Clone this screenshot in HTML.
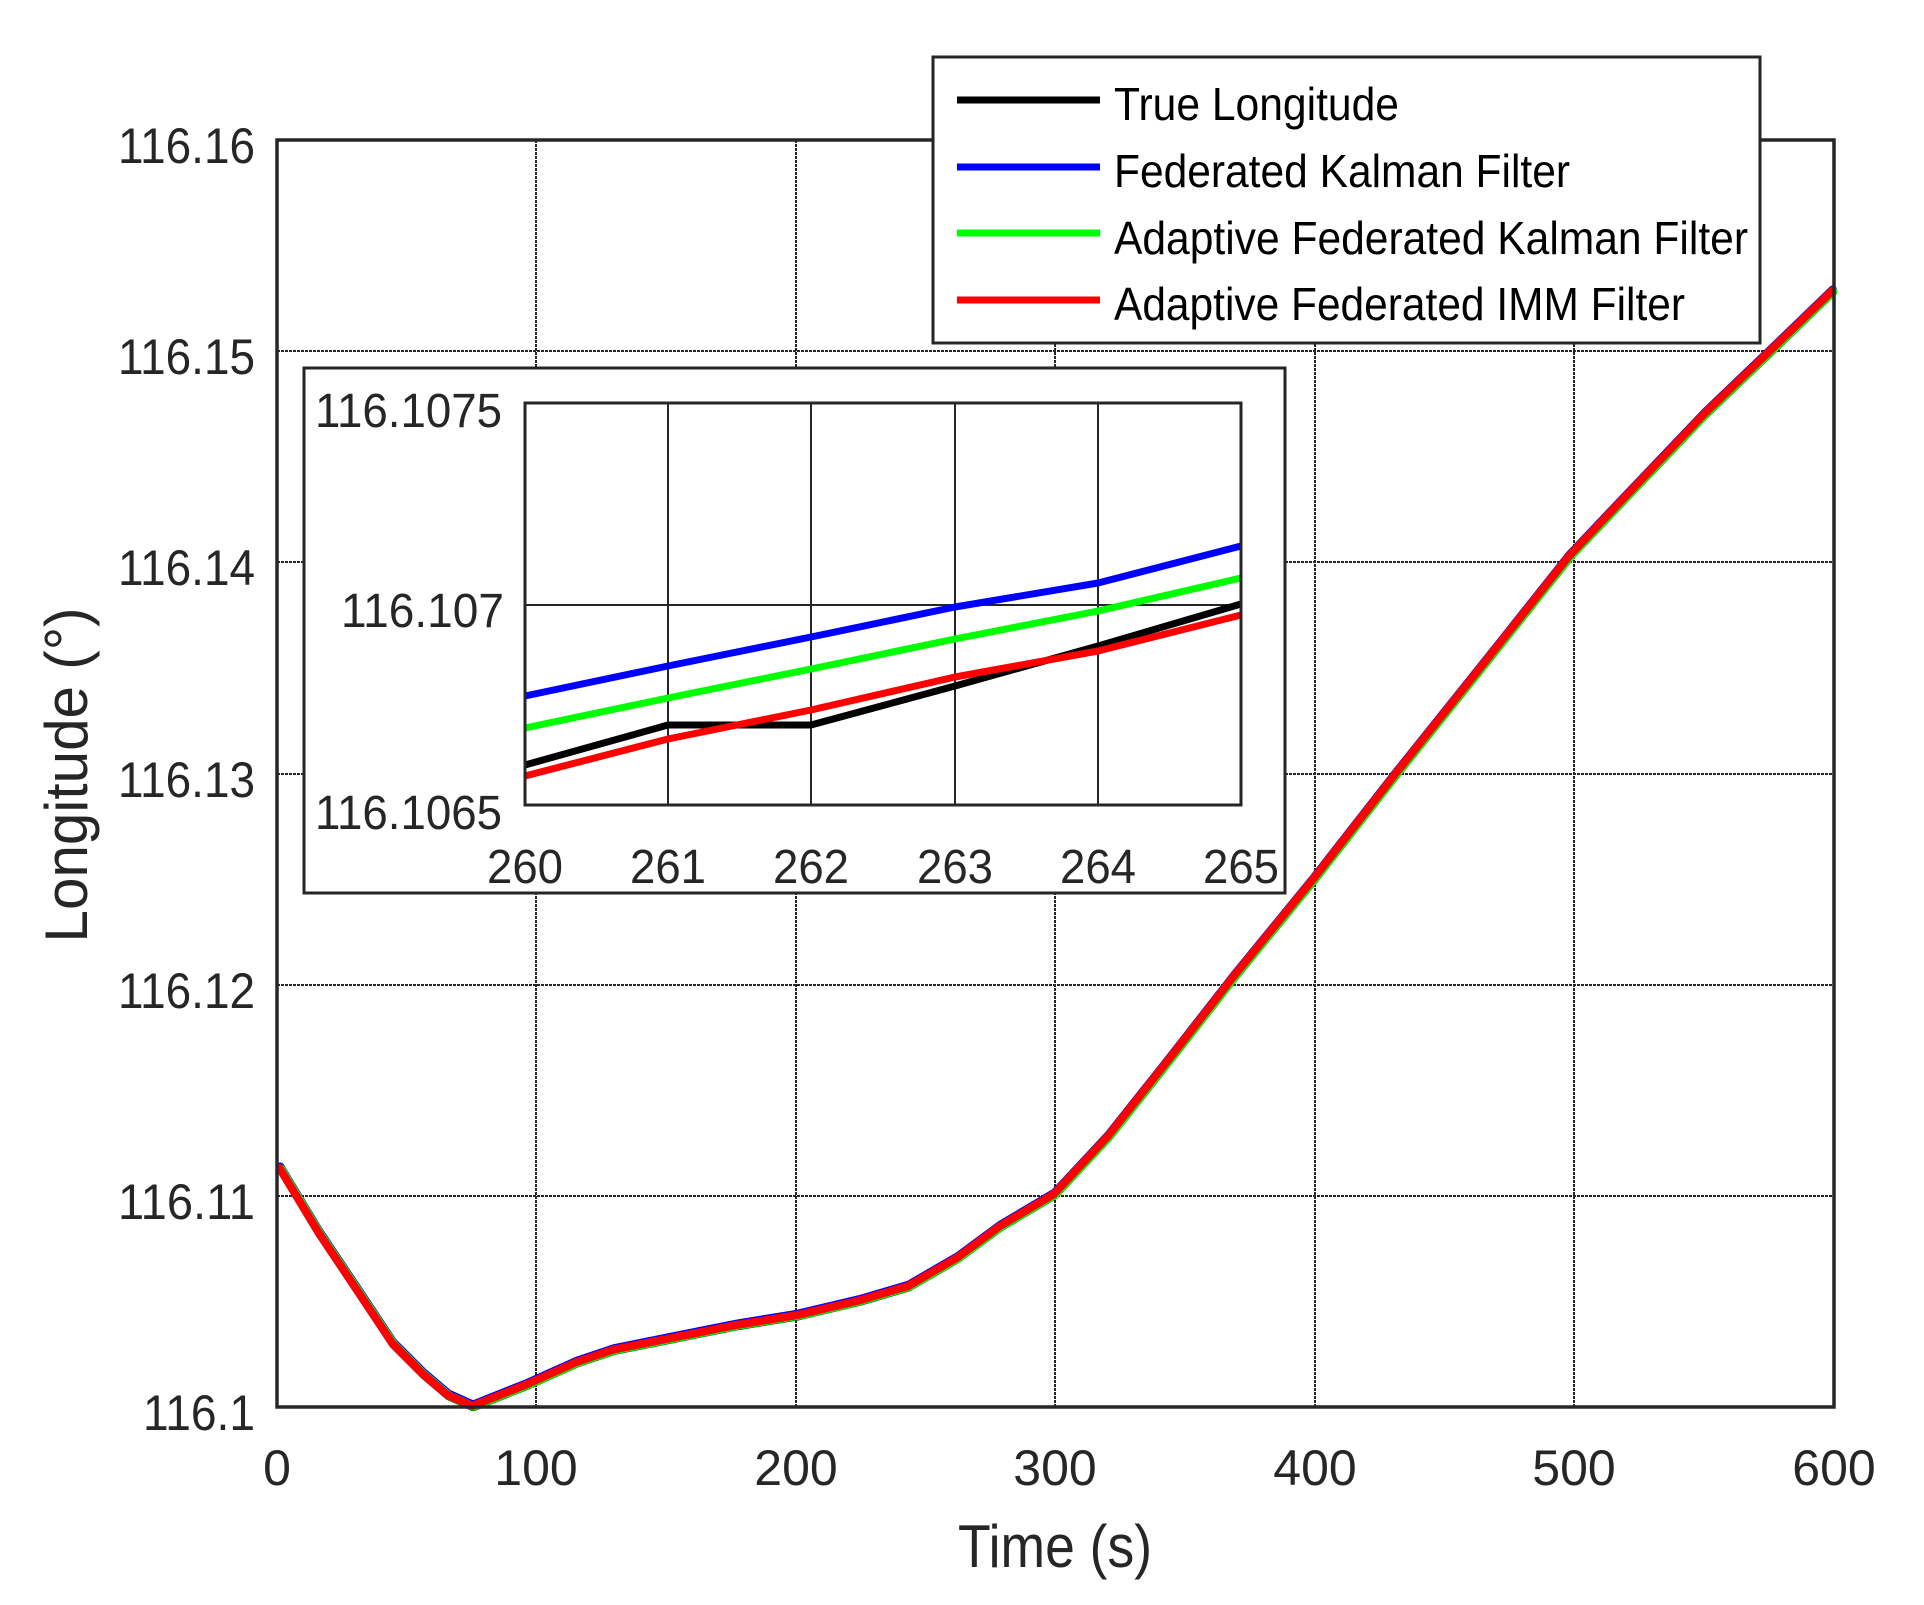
<!DOCTYPE html>
<html><head><meta charset="utf-8"><style>html,body{margin:0;padding:0;background:#fff}svg{display:block}</style></head>
<body>
<svg width="1924" height="1605" viewBox="0 0 1924 1605" xmlns="http://www.w3.org/2000/svg" font-family="Liberation Sans, sans-serif" fill="#262626">
<rect width="1924" height="1605" fill="#fff"/>
<g stroke="#262626" stroke-width="2" stroke-dasharray="3,1">
<line x1="536" y1="140" x2="536" y2="1407"/><line x1="796" y1="140" x2="796" y2="1407"/><line x1="1055" y1="140" x2="1055" y2="1407"/><line x1="1315" y1="140" x2="1315" y2="1407"/><line x1="1574" y1="140" x2="1574" y2="1407"/>
<line x1="277" y1="351" x2="1834" y2="351"/><line x1="277" y1="562" x2="1834" y2="562"/><line x1="277" y1="774" x2="1834" y2="774"/><line x1="277" y1="985" x2="1834" y2="985"/><line x1="277" y1="1196" x2="1834" y2="1196"/>
</g>
<defs>
<path id="c" d="M279.5,1167.9 L318.8,1233 L355.6,1288 L392.5,1343.5 L423,1374 L447.7,1395 L472.3,1406 L490.7,1398.7 L527.5,1384 L576.7,1362 L613.5,1349.6 L674.9,1337.3 L736.3,1325 L797.7,1315 L859,1300.5 L908.2,1286 L957.3,1257.5 L1000,1226 L1054,1194 L1108,1136 L1173,1054 L1233,977 L1314,878 L1396,773 L1488,658 L1569,556 L1623,499 L1705,413 L1775,346 L1832,291"/>
</defs>
<g fill="none" stroke-linejoin="round" stroke-linecap="round" stroke-width="8.5">
<use href="#c" stroke="#000" transform="translate(1,1)"/>
<use href="#c" stroke="#0000ff" transform="translate(0.7,-1.2)"/>
<use href="#c" stroke="#00ff00" transform="translate(1.2,0.6)"/>
<use href="#c" stroke="#ff0000" stroke-width="8"/>
</g>
<rect x="277" y="140" width="1557" height="1267" fill="none" stroke="#262626" stroke-width="3.5"/>
<g font-size="50" text-anchor="end">
<text x="255" y="163" textLength="137" lengthAdjust="spacingAndGlyphs">116.16</text>
<text x="255" y="374" textLength="137" lengthAdjust="spacingAndGlyphs">116.15</text>
<text x="255" y="585" textLength="137" lengthAdjust="spacingAndGlyphs">116.14</text>
<text x="255" y="797" textLength="137" lengthAdjust="spacingAndGlyphs">116.13</text>
<text x="255" y="1008" textLength="137" lengthAdjust="spacingAndGlyphs">116.12</text>
<text x="255" y="1219" textLength="137" lengthAdjust="spacingAndGlyphs">116.11</text>
<text x="255" y="1430" textLength="112" lengthAdjust="spacingAndGlyphs">116.1</text>
</g>
<g font-size="50" text-anchor="middle">
<text x="277" y="1485">0</text><text x="536" y="1485">100</text><text x="796" y="1485">200</text><text x="1055" y="1485">300</text><text x="1315" y="1485">400</text><text x="1574" y="1485">500</text><text x="1834" y="1485">600</text>
</g>
<text x="1055" y="1567" font-size="60" text-anchor="middle" textLength="194" lengthAdjust="spacingAndGlyphs">Time (s)</text>
<text transform="translate(87,775) rotate(-90)" font-size="60" text-anchor="middle" textLength="335" lengthAdjust="spacingAndGlyphs">Longitude (°)</text>
<rect x="933" y="57" width="827" height="286" fill="#fff" stroke="#262626" stroke-width="3"/>
<g stroke-width="7">
<line x1="957" y1="100" x2="1100" y2="100" stroke="#000"/>
<line x1="957" y1="167" x2="1100" y2="167" stroke="#0000ff"/>
<line x1="957" y1="233" x2="1100" y2="233" stroke="#00ff00"/>
<line x1="957" y1="300" x2="1100" y2="300" stroke="#ff0000"/>
</g>
<g font-size="46" fill="#000">
<text x="1114" y="120" textLength="285" lengthAdjust="spacingAndGlyphs">True Longitude</text>
<text x="1114" y="187" textLength="456" lengthAdjust="spacingAndGlyphs">Federated Kalman Filter</text>
<text x="1114" y="254" textLength="634" lengthAdjust="spacingAndGlyphs">Adaptive Federated Kalman Filter</text>
<text x="1114" y="320" textLength="571" lengthAdjust="spacingAndGlyphs">Adaptive Federated IMM Filter</text>
</g>
<rect x="304" y="368" width="981" height="525" fill="#fff" stroke="#262626" stroke-width="3"/>
<g stroke="#262626" stroke-width="2">
<line x1="668" y1="403" x2="668" y2="805"/><line x1="811" y1="403" x2="811" y2="805"/><line x1="955" y1="403" x2="955" y2="805"/><line x1="1098" y1="403" x2="1098" y2="805"/>
<line x1="525" y1="605" x2="1241" y2="605"/>
</g>
<g fill="none" stroke-width="7" stroke-linejoin="round">
<polyline stroke="#000" points="525,765 668,725 811,725 955,686 1098,646 1241,604"/>
<polyline stroke="#0000ff" points="525,696 668,666 811,637 955,607 1098,583 1241,546"/>
<polyline stroke="#00ff00" points="525,728 668,698 811,669 955,639 1098,611 1241,578"/>
<polyline stroke="#ff0000" points="525,776 668,739 811,710 955,677 1098,651 1241,615"/>
</g>
<rect x="525" y="403" width="716" height="402" fill="none" stroke="#262626" stroke-width="3"/>
<g font-size="48" text-anchor="end">
<text x="502" y="427" textLength="187" lengthAdjust="spacingAndGlyphs">116.1075</text>
<text x="504" y="627" textLength="163" lengthAdjust="spacingAndGlyphs">116.107</text>
<text x="502" y="829" textLength="187" lengthAdjust="spacingAndGlyphs">116.1065</text>
</g>
<g font-size="48" text-anchor="middle">
<text x="525" y="883" textLength="76" lengthAdjust="spacingAndGlyphs">260</text>
<text x="668" y="883" textLength="76" lengthAdjust="spacingAndGlyphs">261</text>
<text x="811" y="883" textLength="76" lengthAdjust="spacingAndGlyphs">262</text>
<text x="955" y="883" textLength="76" lengthAdjust="spacingAndGlyphs">263</text>
<text x="1098" y="883" textLength="76" lengthAdjust="spacingAndGlyphs">264</text>
<text x="1241" y="883" textLength="76" lengthAdjust="spacingAndGlyphs">265</text>
</g>
</svg>
</body></html>
